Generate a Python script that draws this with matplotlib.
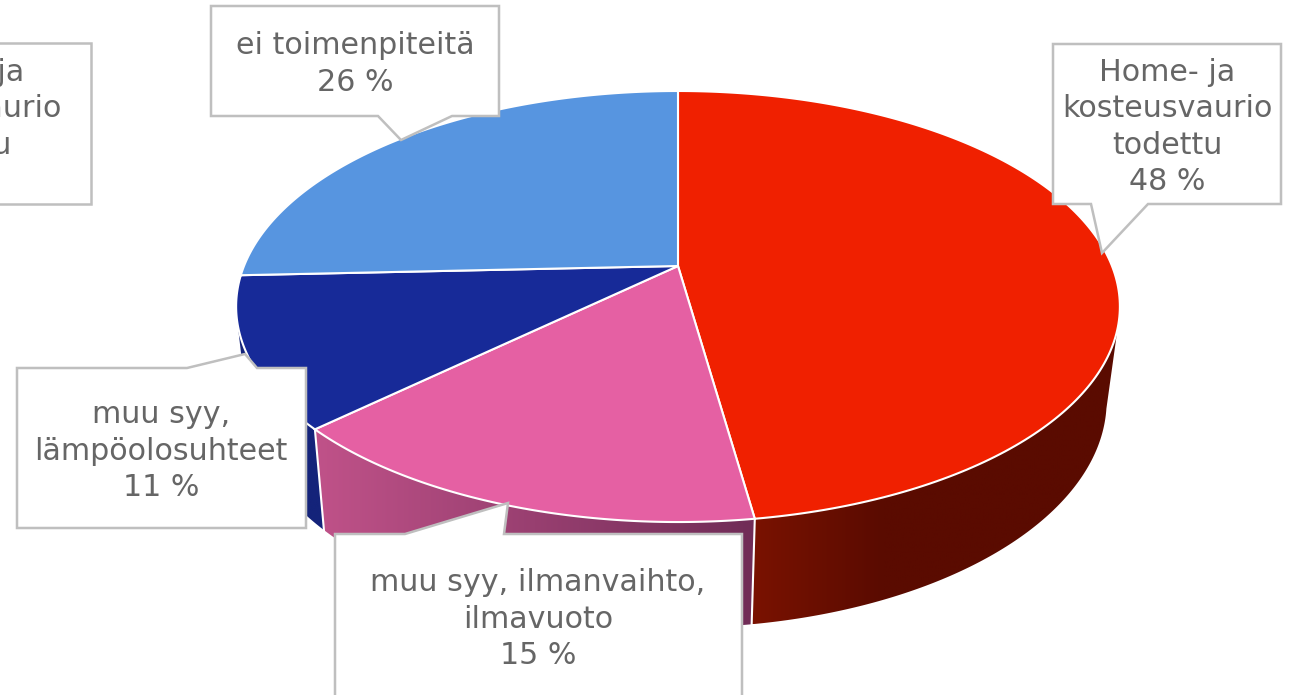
import numpy as np
import matplotlib
matplotlib.use("Agg")
import matplotlib.pyplot as plt
from matplotlib.colors import to_rgb
from matplotlib.patches import Polygon

categories = [
    "Home- ja\nkosteusvaurio\ntodettu",
    "muu syy, ilmanvaihto,\nilmavuoto",
    "muu syy,\nlämpöolosuhteet",
    "ei toimenpiteitä",
    "Home- ja\nkosteusvaurio\ntodettu",
]
shares = [47.7, 15.3, 11.3, 25.7, 0.0]

top_colors = ["#F02000", "#E560A3", "#172A98", "#5795E0", "#5795E0"]
side_from = ["#7A1200", "#C05289", "#14237A", "#3A6AA8", "#3A6AA8"]
side_to = ["#5A0B00", "#702C57", "#14237A", "#3A6AA8", "#3A6AA8"]
# how far in x the side gradient runs, in pixels
side_run = [130, 440, 100, 100, 100]

# callout boxes in pixels: outline and where the text is centred
callouts = [
    ([(1053, 44), (1281, 44), (1281, 204), (1148, 204), (1102, 253), (1091, 204), (1053, 204)], (1167, 127)),
    ([(335, 534), (405, 534), (508, 503), (504, 534), (742, 534), (742, 720), (335, 720)], (538, 619)),
    ([(17, 368), (187, 368), (245, 354), (257, 368), (306, 368), (306, 528), (17, 528)], (161, 451)),
    ([(211, 6), (499, 6), (499, 116), (452, 116), (401, 140), (378, 116), (211, 116)], (355, 64)),
    ([(-160, 43), (91, 43), (91, 204), (-160, 204)], (-44, 127)),
]

K = 0.188  # perspective of the pie top
APEX = (678, 266)
WALL_START = 0.22  # v where the wall's outline leaves the top ellipse


def project(t, cx, cy, a, b):
    # t runs clockwise from the top of the disc
    u = np.sin(t)
    v = -np.cos(t)
    d = 1 - K * v
    return cx + a * u / d, cy + b * v / d


def top_xy(t):
    return project(t, APEX[0], APEX[1], 434, 207.9)


def bottom_xy(t):
    return project(t, 677, 358, 422, 219)


fig = plt.figure(figsize=(12.94, 6.95), dpi=100)
ax = fig.add_axes([0, 0, 1, 1])

edges = np.cumsum([0] + shares) / sum(shares) * 2 * np.pi

# side of the disc: a gradient image clipped to each slice's wall
for i in range(len(shares)):
    t0, t1 = edges[i], edges[i + 1]
    if t1 == t0:
        continue
    ts = np.linspace(t0, t1, 300)
    ts = ts[-np.cos(ts) > WALL_START]
    if len(ts) < 2:
        continue
    tx, ty = top_xy(ts)
    bx, by = bottom_xy(ts)
    pts = list(zip(tx, ty)) + list(zip(bx[::-1], by[::-1]))
    wall = Polygon(pts, closed=True, facecolor="none", edgecolor="none", transform=ax.transData)
    ax.add_patch(wall)
    x0, x1 = min(tx.min(), bx.min()), max(tx.max(), bx.max())
    y0, y1 = min(ty.min(), by.min()), max(ty.max(), by.max())
    f = np.clip((np.linspace(x0, x1, 256) - x0) / side_run[i], 0, 1)
    c0, c1 = np.array(to_rgb(side_from[i])), np.array(to_rgb(side_to[i]))
    grad = c0[None, None, :] + (c1 - c0)[None, None, :] * f[None, :, None]
    im = ax.imshow(grad, extent=(x0, x1, y1, y0), aspect="auto", zorder=2, interpolation="bilinear")
    im.set_clip_path(wall)

ax.set_xlim(0, 1294)
ax.set_ylim(695, 0)
ax.axis("off")

# white seams on the side
for t in edges[1:3]:
    tx, ty = top_xy(t)
    bx, by = bottom_xy(t)
    ax.plot([tx, bx], [ty, by], color="white", lw=1.5, zorder=3)

# top of the disc
for i in range(len(shares)):
    t0, t1 = edges[i], edges[i + 1]
    if t1 == t0:
        continue
    x, y = top_xy(np.linspace(t0, t1, 200))
    pts = [APEX] + list(zip(x, y))
    ax.add_patch(Polygon(pts, closed=True, facecolor=top_colors[i], edgecolor="white", lw=1.5, zorder=4))

# callouts
for i, (outline, center) in enumerate(callouts):
    ax.add_patch(Polygon(outline, closed=True, facecolor="white", edgecolor="#BFBFBF", lw=1.8, zorder=5))
    label = f"{categories[i]}\n{round(shares[i])} %"
    ax.text(center[0], center[1], label, ha="center", va="center", fontsize=21.7, color="#666666",
            family="DejaVu Sans", linespacing=1.33, zorder=6)

fig.savefig("out.png", dpi=100, facecolor="white")
